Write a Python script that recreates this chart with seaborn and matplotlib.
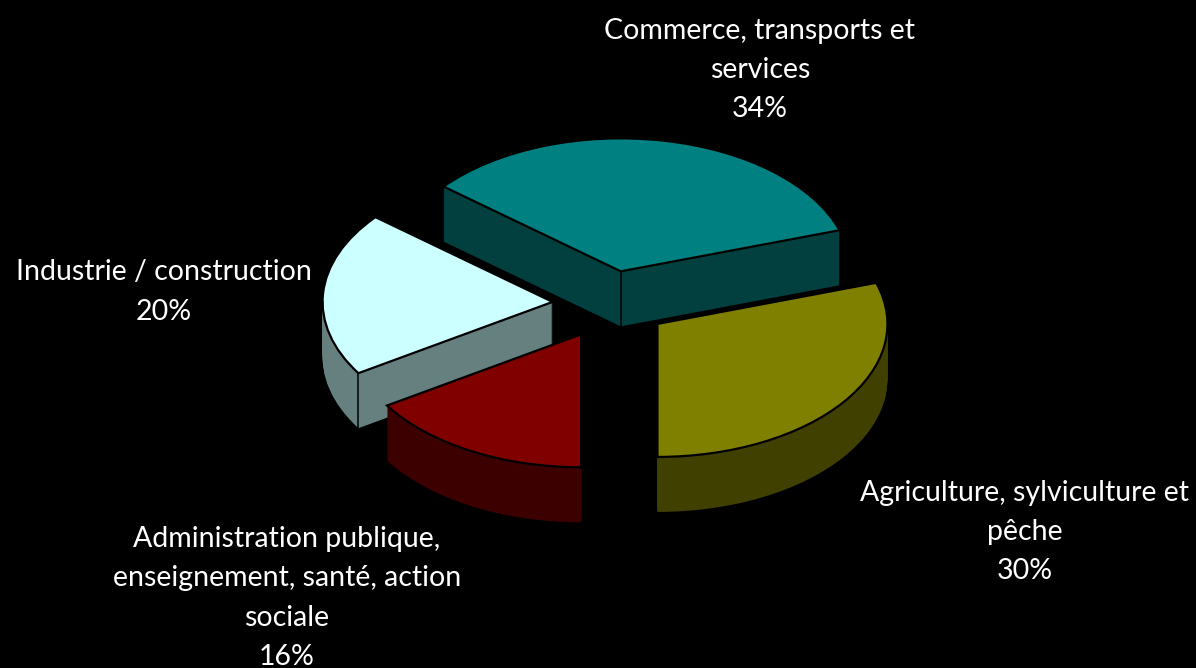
import matplotlib
matplotlib.use("Agg")
import matplotlib.pyplot as plt
import numpy as np
import seaborn as sns

sns.set_theme(style="white")
plt.rcParams['font.family'] = ['Lato', 'DejaVu Sans']

# Slices, anticlockwise from the start angle
labels = ["Commerce, transports et\nservices\n34%",
          "Industrie / construction\n20%",
          "Administration publique,\nenseignement, santé, action\nsociale\n16%",
          "Agriculture, sylviculture et\npêche\n30%"]
values = [34, 20, 16, 30]
top_colors = ["#008080", "#CCFFFF", "#800000", "#808000"]
side_colors = ["#024040", "#668080", "#3C0000", "#404000"]
explode = [0.25, 0.25, 0.26, 0.255]
label_xy = [(760, 70), (164, 292), (287, 598), (1025, 532)]

W, H = 1196, 668
CX, CY, RX, RY, DEPTH = 610, 304, 230, 133, 55

fig = plt.figure(figsize=(W / 100, H / 100), dpi=100, facecolor="black")
ax = fig.add_axes([0, 0, 1, 1])
ax.set_facecolor("black")

top_wedges = None
for d in range(DEPTH, -1, -1):
    cols = top_colors if d == 0 else side_colors
    props = dict(linewidth=1.6, edgecolor="black") if d == 0 else dict(linewidth=0)
    wedges, _ = ax.pie(values, explode=explode, colors=cols, startangle=18,
                       counterclock=True, radius=1, center=(0, -d / RY),
                       wedgeprops=props)
    for rank, w in enumerate(wedges):
        w.set_zorder(rank * 1000 + (DEPTH - d))
    if d == 0:
        top_wedges = wedges

# Vertical seams on the walls, taken from the wedges themselves
teal, white = top_wedges[0], top_wedges[1]
seam_x = [teal.center[0],
          white.center[0] + np.cos(np.radians(white.theta2))]
seam_y = [teal.center[1],
          white.center[1] + np.sin(np.radians(white.theta2))]
for rank, x, y in zip([0, 1], seam_x, seam_y):
    ax.vlines(x, y - DEPTH / RY, y, color="black", linewidth=1.1,
              zorder=rank * 1000 + DEPTH - 1)

ax.set_aspect("auto")
ax.set_xlim(-CX / RX, (W - CX) / RX)
ax.set_ylim(-(H - CY) / RY, CY / RY)
ax.axis("off")

for txt, (px, py) in zip(labels, label_xy):
    fig.text(px / W, 1 - py / H, txt, color="white", fontsize=20.5, ha="center",
             va="center", linespacing=1.62)

fig.savefig("out.png", dpi=100, facecolor="black")
